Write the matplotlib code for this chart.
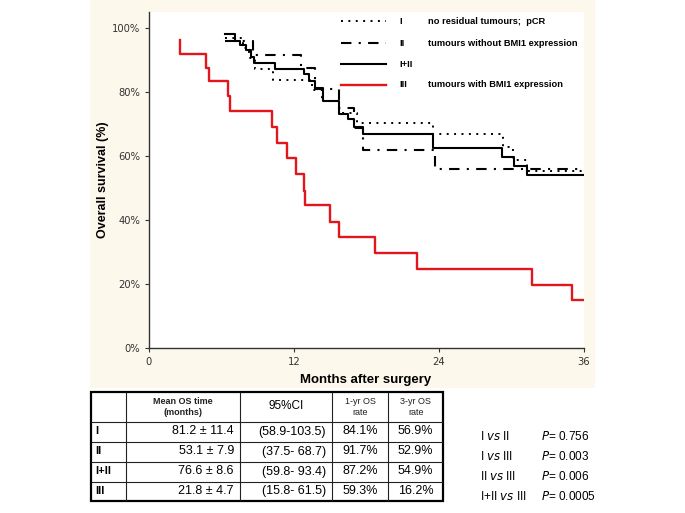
import matplotlib
matplotlib.use('Agg')
import matplotlib.pyplot as plt
from matplotlib.lines import Line2D
from matplotlib.patches import Rectangle
from matplotlib.ticker import FuncFormatter

plt.rcParams['font.family'] = ['Liberation Sans', 'DejaVu Sans']

# ---- Kaplan-Meier curves (months, % surviving) ----
months_I = [6.3, 7.8, 8.3, 8.8, 10.3, 13.5, 14.3, 15.7, 17.2, 23.5, 29.3, 30.1, 31.3, 36.0]
surv_I = [96.9, 93.8, 90.6, 87.1, 83.8, 80.5, 77.3, 73.3, 70.2, 66.8, 62.9, 58.8, 55.4, 55.4]

months_II = [6.3, 8.6, 12.6, 13.7, 15.7, 17.0, 17.7, 23.7, 36.0]
surv_II = [96.0, 91.6, 87.5, 81.0, 75.0, 68.7, 61.9, 55.8, 55.8]

months_I_II = [6.3, 7.1, 7.5, 8.0, 8.4, 8.7, 10.4, 12.8, 13.2, 13.7, 14.4, 15.7,
               16.5, 17.0, 17.7, 23.5, 29.2, 30.2, 31.3, 36.0]
surv_I_II = [98.1, 96.0, 94.7, 93.1, 91.0, 89.0, 87.1, 85.6, 83.5, 81.1, 77.3, 73.0,
             71.5, 69.0, 66.9, 62.4, 59.6, 57.0, 54.1, 54.1]

months_III = [2.6, 2.6, 4.7, 5.0, 6.5, 6.7, 10.2, 10.6, 11.4, 12.2, 12.8, 12.9,
              15.0, 15.7, 18.7, 22.2, 31.7, 35.0, 36.0]
surv_III = [96.3, 92.0, 87.4, 83.4, 78.8, 74.2, 69.2, 64.2, 59.3, 54.4, 49.2, 44.7,
            39.5, 34.6, 29.8, 24.6, 19.8, 14.9, 14.9]

groups = ['I', 'II', 'I+II', 'III']
legend_desc = ['no residual tumours;  pCR', 'tumours without BMI1 expression', '',
               'tumours with BMI1 expression']

# ---- table ----
mean_os = ['81.2 \u00b1 11.4', '53.1 \u00b1 7.9', '76.6 \u00b1 8.6', '21.8 \u00b1 4.7']
ci95 = ['(58.9-103.5)', '(37.5- 68.7)', '(59.8- 93.4)', '(15.8- 61.5)']
rate_1yr = ['84.1%', '91.7%', '87.2%', '59.3%']
rate_3yr = ['56.9%', '52.9%', '54.9%', '16.2%']

comparisons = [('I', 'II'), ('I', 'III'), ('II', 'III'), ('I+II', 'III')]
p_values = ['0.756', '0.003', '0.006', '0.0005']

red = '#e3161c'
styles = {
    'I': dict(color='black', lw=1.4, ls=(0, (1, 2.8))),
    'II': dict(color='black', lw=1.5, ls=(0, (5, 3.5, 1, 3.5))),
    'I+II': dict(color='black', lw=1.5, ls='-'),
    'III': dict(color=red, lw=1.7, ls='-'),
}

W, H = 685, 513
fig = plt.figure(figsize=(6.85, 5.13), dpi=100)
fig.patch.set_facecolor('white')
fig.patches.append(Rectangle((90 / W, 1 - 388 / H), 505 / W, 388 / H,
                             transform=fig.transFigure, facecolor='#fdf8ec',
                             edgecolor='none', zorder=-5))

ax = fig.add_axes([149 / W, 1 - 348 / H, 435 / W, 336 / H])
ax.set_zorder(2)
ax.set_facecolor('white')

curves = [(months_I, surv_I, 'I'), (months_II, surv_II, 'II'),
          (months_I_II, surv_I_II, 'I+II'), (months_III, surv_III, 'III')]
for t, s, g in curves:
    ax.step(t, s, where='post', **styles[g])

ax.set_xlim(0, 36)
ax.set_ylim(0, 105)
ax.set_xticks([0, 12, 24, 36])
ax.set_yticks([0, 20, 40, 60, 80, 100])
ax.yaxis.set_major_formatter(FuncFormatter(lambda v, p: f'{v:.0f}%'))
for sp in ['top', 'right']:
    ax.spines[sp].set_visible(False)
for sp in ['left', 'bottom']:
    ax.spines[sp].set_color('#333333')
    ax.spines[sp].set_linewidth(1.0)
ax.tick_params(direction='out', length=3, width=0.8, colors='#333333',
               labelsize=7.2, labelcolor='#333333')
for lab in ax.get_xticklabels() + ax.get_yticklabels():
    lab.set_family('DejaVu Sans')

ax.set_xlabel('Months after surgery', fontsize=9.5, fontweight='bold')
ax.xaxis.set_label_coords(0.499, -0.078)
ax.set_ylabel('Overall survival (%)', fontsize=9, fontweight='bold')
ax.yaxis.set_label_coords(-0.092, 0.5)

# legend drawn as three columns: line sample, group numeral, description
rows_y = [0.972, 0.907, 0.845, 0.783]
for g, desc, yy in zip(groups, legend_desc, rows_y):
    ax.add_line(Line2D([0.441, 0.545], [yy, yy], transform=ax.transAxes, **styles[g]))
    ax.text(0.575, yy, g, transform=ax.transAxes, fontsize=6.8, fontweight='bold',
            va='center', ha='left')
    if desc:
        ax.text(0.641, yy, desc, transform=ax.transAxes, fontsize=6.7,
                fontweight='bold', va='center', ha='left')

# ---- table below the chart ----
tx0, tx1, ty0, ty1 = 91, 443, 392, 501
tab = fig.add_axes([tx0 / W, 1 - ty1 / H, (tx1 - tx0) / W, (ty1 - ty0) / H])
tab.set_xlim(tx0, tx1)
tab.set_ylim(ty1, ty0)
tab.axis('off')
col_x = [91, 125.7, 240, 331.7, 388.3, 443]
row_y = [392, 421.5, 441.5, 461.5, 481.5, 501]
for x in col_x[1:-1]:
    tab.plot([x, x], [ty0, ty1], color='#222222', lw=0.8, solid_capstyle='butt')
for y in row_y[1:-1]:
    tab.plot([tx0, tx1], [y, y], color='#222222', lw=0.8, solid_capstyle='butt')
tab.add_patch(Rectangle((tx0, ty0), tx1 - tx0, ty1 - ty0, fill=False,
                        edgecolor='black', lw=1.6, clip_on=False))

hy = (row_y[0] + row_y[1]) / 2
tab.text((col_x[1] + col_x[2]) / 2, hy, 'Mean OS time\n(months)', fontsize=6.5,
         fontweight='bold', ha='center', va='center', linespacing=1.25, color='#222222')
tab.text((col_x[2] + col_x[3]) / 2, hy - 1, '95%CI', fontsize=8.5, ha='center', va='center')
tab.text((col_x[3] + col_x[4]) / 2, hy, '1-yr OS\nrate', fontsize=6.5,
         ha='center', va='center', linespacing=1.25, color='#222222')
tab.text((col_x[4] + col_x[5]) / 2, hy, '3-yr OS\nrate', fontsize=6.5,
         ha='center', va='center', linespacing=1.25, color='#222222')

for i, g in enumerate(groups):
    cy = (row_y[i + 1] + row_y[i + 2]) / 2
    tab.text(95, cy, g, fontsize=8, fontweight='bold', ha='left', va='center')
    tab.text(234, cy, mean_os[i], fontsize=9, ha='right', va='center')
    tab.text(326, cy, ci95[i], fontsize=9, ha='right', va='center')
    tab.text((col_x[3] + col_x[4]) / 2, cy, rate_1yr[i], fontsize=9, ha='center', va='center')
    tab.text((col_x[4] + col_x[5]) / 2, cy, rate_3yr[i], fontsize=9, ha='center', va='center')

# ---- log-rank P values ----
p_rows = [437, 457, 476, 496]
for (a, b), p, py in zip(comparisons, p_values, p_rows):
    fig.text(480 / W, 1 - py / H, a + r' $\it{vs}$ ' + b, fontsize=8.5, va='center')
    fig.text(541 / W, 1 - py / H, r'$\it{P}$= ' + p, fontsize=8.5, va='center')

fig.savefig('out.png', dpi=100, facecolor=fig.get_facecolor())
